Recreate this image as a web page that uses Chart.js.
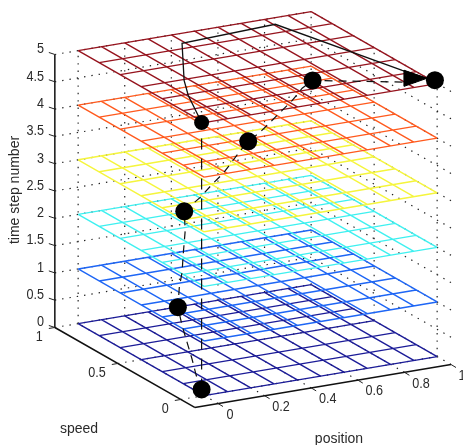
<!DOCTYPE html>
<html><head><meta charset="utf-8">
<style>html,body{margin:0;padding:0;background:#fff}canvas{display:block}</style>
<script src="https://cdn.jsdelivr.net/npm/chart.js@4"></script>
</head><body><canvas id="c" width="463" height="445"></canvas>
<script>
// ---- tick labels / grid values
const positionTicks = [0,0.2,0.4,0.6,0.8,1];
const speedTicks = [0,0.5,1];
const timeTicks = [0,0.5,1,1.5,2,2.5,3,3.5,4,4.5,5];
// ---- mesh layers
const meshPositions = [0,0.1,0.2,0.3,0.4,0.5,0.6,0.7,0.8,0.9,1];
const meshSpeeds = [0,1/6,2/6,3/6,4/6,5/6,1];
const layerSteps = [0,1,2,3,4,5];
const layerColors = ['#1c1c98','#1e66f5','#3ff0f0','#f5f53c','#ff5a1e','#96141e'];
// ---- trajectories [position, speed, step]
const markersLarge = [[0.027,0.07,0],[0.109,0.41,1],[0.37,0.842,2],[0.672,0.893,3],[0.922,0.844,4],[1.012,0.04,5]];
const markerTop = [[0.027,0.07,4.89]];
const dashedCurve = [[0.027,0.07,0],[0.028,0.115,0.2],[0.044,0.177,0.4],[0.062,0.25,0.6],[0.081,0.325,0.8],[0.109,0.41,1],
 [0.166,0.504,1.2],[0.199,0.543,1.4],[0.237,0.605,1.6],[0.326,0.753,1.8],[0.37,0.842,2],
 [0.425,0.817,2.25],[0.47,0.798,2.5],[0.514,0.799,2.65],[0.61,0.85,2.9],[0.672,0.893,3],
 [0.7,0.851,3.2],[0.747,0.841,3.4],[0.774,0.812,3.6],[0.818,0.813,3.75],[0.874,0.838,3.9],[0.922,0.844,4],[0.968,0.11,4.9]];
const dashedVertical = [[0.027,0.07,0],[0.027,0.07,4.89]];
const solidCurve = [[0.027,0.07,4.89],[0.105,0.32,5],[0.179,0.49,5],[0.387,0.891,5],[0.807,0.928,5],[0.961,0.205,5],[0.997,0.075,5]];
const arrowHead = [[0.968,0.202,5],[0.875,0.03,5],[0.997,0.075,5],[0.968,0.202,5]];
// ---- view of the 3-D box
const posMin=-0.1, posMax=1, speedMin=-0.11, speedMax=1, timeMax=5;
function project(p,s,t){
  const a=p-posMin,b=s-speedMin;
  return {x:194.7+a*233-b*126, y:407.4-a*39-b*72-t*54.6};
}
const pts=list=>list.map(v=>project(v[0],v[1],v[2]));
const gap={x:NaN,y:NaN};
function segments(list){const o=[];list.forEach(l=>{o.push(project(...l[0]),project(...l[1]),gap)});return o;}

const meshDatasets=layerSteps.map((t,i)=>{
  const lines=[];
  meshPositions.forEach(p=>lines.push([[p,0,t],[p,1,t]]));
  meshSpeeds.forEach(s=>lines.push([[0,s,t],[1,s,t]]));
  return {label:'step '+t,data:segments(lines),showLine:true,borderColor:layerColors[i],borderWidth:1.4,pointRadius:0,order:20-i};
});
const gridLines=[];
timeTicks.forEach(t=>{gridLines.push([[posMin,speedMax,t],[posMax,speedMax,t]]);gridLines.push([[posMax,speedMin,t],[posMax,speedMax,t]]);});
positionTicks.forEach(p=>{gridLines.push([[p,speedMax,0],[p,speedMax,timeMax]]);gridLines.push([[p,speedMin,0],[p,speedMax,0]]);});
speedTicks.forEach(s=>{gridLines.push([[posMax,s,0],[posMax,s,timeMax]]);gridLines.push([[posMin,s,0],[posMax,s,0]]);});
const axisLines=[[[posMin,speedMax,0],[posMin,speedMax,timeMax]],[[posMin,speedMax,0],[posMin,speedMin,0]],[[posMin,speedMin,0],[posMax,speedMin,0]]];

const labelPlugin={id:'labels',afterDraw(chart){
  const c=chart.ctx,xs=chart.scales.x,ys=chart.scales.y;
  const px=v=>({x:xs.getPixelForValue(v.x),y:ys.getPixelForValue(v.y)});
  c.save();c.font='14px "Liberation Sans"';c.fillStyle='#2a2a2a';c.strokeStyle='#222';c.lineWidth=1;
  c.textBaseline='middle';
  const tick=(a,dx,dy)=>{c.beginPath();c.moveTo(a.x,a.y);c.lineTo(a.x+dx,a.y+dy);c.stroke();};
  const put=(s,x,y)=>c.fillText(s,x,y,c.measureText(s).width*0.9);
  c.textAlign='right';
  timeTicks.forEach(t=>{const a=px(project(posMin,speedMax,t));tick(a,-6,-2);put(String(t),44,a.y-5);});
  speedTicks.forEach(s=>{const a=px(project(posMin,s,0));tick(a,-6,1);put(String(s),a.x-12,a.y+10);});
  c.textAlign='center';
  positionTicks.forEach(p=>{const a=px(project(p,speedMin,0));tick(a,5,3);put(String(p),a.x+(p===0?12:p===1?11:16.5),a.y+11.5);});
  c.fillText('position',339,439);
  c.fillText('speed',79,429);
  c.translate(15,190);c.rotate(-Math.PI/2);c.fillText('time step number',0,0);
  c.restore();
}};

new Chart(document.getElementById('c'),{
  type:'scatter',
  data:{datasets:[
    {label:'markers',data:pts(markersLarge),pointRadius:9,pointBackgroundColor:'#000',pointBorderWidth:0,order:1},
    {label:'top marker',data:pts(markerTop),pointRadius:7.5,pointBackgroundColor:'#000',pointBorderWidth:0,order:1},
    {label:'arrow',data:pts(arrowHead),showLine:true,fill:'shape',backgroundColor:'#000',borderColor:'#000',borderWidth:1,pointRadius:0,order:2},
    {label:'solid path',data:pts(solidCurve),showLine:true,borderColor:'#111',borderWidth:1.3,pointRadius:0,order:3},
    {label:'dashed path',data:pts(dashedCurve),showLine:true,borderColor:'#111',borderWidth:1.2,borderDash:[8,6],pointRadius:0,order:3},
    {label:'dashed vertical',data:pts(dashedVertical),showLine:true,borderColor:'#111',borderWidth:1.2,borderDash:[11,9],pointRadius:0,order:3},
    ...meshDatasets,
    {label:'grid',data:segments(gridLines),showLine:true,borderColor:'#222',borderWidth:1.2,borderDash:[1.4,6],pointRadius:0,order:30},
    {label:'axes',data:segments(axisLines),showLine:true,borderColor:'#111',borderWidth:1.5,pointRadius:0,order:4}
  ]},
  plugins:[labelPlugin],
  options:{
    responsive:false,animation:false,
    layout:{padding:0,autoPadding:false},
    clip:false,
    plugins:{legend:{display:false},tooltip:{enabled:false}},
    scales:{
      x:{type:'linear',min:0,max:463,display:false},
      y:{type:'linear',min:0,max:445,reverse:true,display:false}
    }
  }
});
</script></body></html>
